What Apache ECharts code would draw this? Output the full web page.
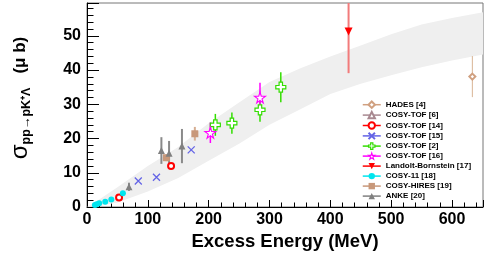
<!DOCTYPE html>
<html><head><meta charset="utf-8">
<script src="https://cdn.jsdelivr.net/npm/echarts@6/dist/echarts.min.js"></script>
<style>html,body{margin:0;padding:0;background:#fff}#c{width:490px;height:263px}</style>
</head><body><div id="c"></div>
<script>
const FONT = '"Liberation Sans", Arial, Helvetica, sans-serif';

// tick labels
const xTickLabels = [0, 100, 200, 300, 400, 500, 600];
const yTickLabels = [0, 10, 20, 30, 40, 50];

// data (excess energy MeV, cross section µb, error)
const hadesX = [633.5], hadesY = [38.1], hadesErr = [6.0];
const tof6X = [], tof6Y = [];
const tof14X = [52.7, 138.2], tof14Y = [2.8, 12.0];
const tof15X = [84.3, 114.2, 171.3], tof15Y = [7.6, 8.7, 16.7];
const tof2X = [211, 238.2, 284.4, 318.6], tof2Y = [24.0, 24.5, 28.4, 35.0], tof2Err = [3.2, 3.1, 3.5, 4.4];
const tof16X = [202.8, 284.4], tof16Y = [21.7, 32.0], tof16Err = [3.0, 4.3];
const lbX = [430], lbY = [51.3], lbErr = [12.2];
const c11X = [13, 16, 20, 30, 40, 59], c11Y = [0.6, 0.8, 1.1, 1.5, 2.2, 4.0];
const hiresX = [130.5, 177.3], hiresY = [14.4, 21.4], hiresErr = [1.0, 2.0];
const ankeX = [69, 122.3, 134.9, 156.1], ankeY = [5.9, 16.5, 15.7, 17.8], ankeErr = [1.2, 3.9, 3.6, 5.0];

// grey band
const bandX  = [0, 20, 50, 100, 150, 200, 250, 300, 350, 400, 450, 500, 550, 600, 655];
const bandHi = [0, 2.2, 5.8, 12, 17.5, 24.5, 30.5, 36.5, 40.5, 44, 47.2, 50.5, 53.3, 55.2, 57];
const bandLo = [0, 0.3, 1.3, 4.5, 8.5, 13.5, 18.5, 24, 28.5, 33, 36, 38.5, 40.8, 42.8, 44.7];

const names = ['HADES [4]', 'COSY-TOF [6]', 'COSY-TOF [14]', 'COSY-TOF [15]', 'COSY-TOF [2]', 'COSY-TOF [16]',
  'Landolt-Bornstein [17]', 'COSY-11 [18]', 'COSY-HIRES [19]', 'ANKE [20]'];

const pts = (xs, ys) => xs.map((x, i) => [x, ys[i]]);
const errs = (xs, ys, es) => xs.map((x, i) => [x, ys[i] - es[i], ys[i] + es[i]]);

function pointSeries(name, xs, ys, color, symbol, size, itemStyle, extra) {
  return Object.assign({
    name, type: 'line', data: pts(xs, ys), symbol, symbolSize: size,
    lineStyle: { width: 0, opacity: 0, color },
    itemStyle: itemStyle || { color },
    z: 5, animation: false, silent: true
  }, extra || {});
}
function errSeries(xs, ys, es, color, width) {
  return {
    type: 'custom', data: errs(xs, ys, es), clip: true, z: 3, silent: true, animation: false,
    encode: { x: 0, y: [1, 2] },
    renderItem: (params, api) => {
      const p1 = api.coord([api.value(0), api.value(1)]);
      const p2 = api.coord([api.value(0), api.value(2)]);
      return { type: 'line', shape: { x1: p1[0], y1: p1[1], x2: p2[0], y2: p2[1] },
        style: { stroke: color, lineWidth: width } };
    }
  };
}

const STAR = 'path://M50,0L61,35L98,35L68,57L79,91L50,70L21,91L32,57L2,35L39,35Z';
const CROSS = 'path://M33,0H67V33H100V67H67V100H33V67H0V33H33Z';
const XMARK = 'path://M0,0L10,10M10,0L0,10';

const band = {
  type: 'custom', data: [[0, 0, 0]], clip: true, z: 1, silent: true, animation: false,
  renderItem: (params, api) => {
    const up = bandX.map((x, i) => api.coord([x, bandHi[i]]));
    const lo = bandX.map((x, i) => api.coord([x, bandLo[i]])).reverse();
    return { type: 'polygon', shape: { points: up.concat(lo) }, style: { fill: '#efefef' } };
  }
};

const openGreen = { color: '#fff', borderColor: '#33dd00', borderWidth: 1.2 };
const openMagenta = { color: '#fff', borderColor: '#ff00ff', borderWidth: 1.1 };

const chart = echarts.init(document.getElementById('c'), null, { renderer: 'canvas' });
chart.setOption({
  animation: false,
  backgroundColor: '#fff',
  grid: { left: 84, right: 7, top: 3, bottom: 56, show: true, borderColor: '#777', borderWidth: 1 },
  xAxis: {
    type: 'value', min: 0, max: 651, interval: 100,
    axisLine: { lineStyle: { color: '#000', width: 1 } },
    axisTick: { inside: true, length: 7, lineStyle: { color: '#000' } },
    minorTick: { show: true, splitNumber: 5, length: 4.5, lineStyle: { color: '#000' } },
    splitLine: { show: false },
    axisLabel: { showMaxLabel: false, margin: 5, color: '#000', fontFamily: FONT, fontWeight: 'bold', fontSize: 16,
      formatter: v => xTickLabels.includes(v) ? String(v) : '' },
    name: 'Excess Energy (MeV)', nameLocation: 'middle', nameGap: 23,
    nameTextStyle: { color: '#000', fontFamily: FONT, fontWeight: 'bold', fontSize: 18.5 }
  },
  yAxis: {
    type: 'value', min: 0, max: 59.6, interval: 10,
    axisLine: { lineStyle: { color: '#000', width: 1 } },
    axisTick: { inside: true, length: 12, lineStyle: { color: '#000' } },
    minorTick: { show: true, splitNumber: 5, length: 6.5, lineStyle: { color: '#000' } },
    splitLine: { show: false },
    axisLabel: { showMaxLabel: false, margin: 6, color: '#000', fontFamily: FONT, fontWeight: 'bold', fontSize: 16,
      formatter: v => yTickLabels.includes(v) ? String(v) : '' },
    name: '{s|σ}{sub|pp→pK⁺Λ}{n|(μ b)}', nameLocation: 'middle', nameRotate: 90, nameGap: 54,
    nameTextStyle: {
      color: '#000', fontFamily: FONT, fontWeight: 'bold', padding: [0, 0, 0, 14],
      rich: {
        s: { fontSize: 24, fontFamily: FONT, fontWeight: 'normal', lineHeight: 26, color: '#000' },
        sub: { fontSize: 12.5, fontFamily: FONT, fontWeight: 'bold', lineHeight: 12, verticalAlign: 'bottom', color: '#000' },
        n: { fontSize: 17, fontFamily: FONT, fontWeight: 'bold', lineHeight: 26, padding: [0, 0, 0, 14], color: '#000' }
      }
    }
  },
  legend: {
    orient: 'vertical', left: 357, top: 95.5, itemWidth: 18, itemHeight: 8, itemGap: 2,
    data: names.map((n, i) => i === 4 ? { name: n, itemStyle: openGreen }
      : i === 5 ? { name: n, itemStyle: openMagenta } : n),
    lineStyle: { width: 1.5, opacity: 1 },
    textStyle: { fontFamily: FONT, fontSize: 8, lineHeight: 8, fontWeight: 'bold', color: '#000' },
    selectedMode: false
  },
  series: [
    band,
    errSeries(hadesX, hadesY, hadesErr, '#d8b494', 1),
    errSeries(tof2X, tof2Y, tof2Err, '#33dd00', 1.5),
    errSeries(tof16X, tof16Y, tof16Err, '#ff00ff', 1.5),
    errSeries(lbX, lbY, lbErr, '#f27b7b', 2),
    errSeries(hiresX, hiresY, hiresErr, '#d6ae92', 2),
    errSeries(ankeX, ankeY, ankeErr, '#8a8a8a', 2),
    pointSeries(names[0], hadesX, hadesY, '#d0a080', 'emptyDiamond', 6),
    pointSeries(names[1], tof6X, tof6Y, '#a88890', 'emptyTriangle', 7),
    pointSeries(names[2], tof14X, tof14Y, '#ff0000', 'emptyCircle', 6),
    pointSeries(names[3], tof15X, tof15Y, '#6464e6', XMARK, 7, { color: '#6464e6', borderColor: '#6464e6', borderWidth: 1.3 }),
    pointSeries(names[4], tof2X, tof2Y, '#33dd00', CROSS, 10, openGreen),
    pointSeries(names[5], tof16X, tof16Y, '#ff00ff', STAR, 11, openMagenta),
    pointSeries(names[6], lbX, lbY, '#ff0000', 'triangle', 8, null, { symbolRotate: 180 }),
    pointSeries(names[7], c11X, c11Y, '#00e5ee', 'circle', 6),
    pointSeries(names[8], hiresX, hiresY, '#c8987a', 'rect', 7),
    pointSeries(names[9], ankeX, ankeY, '#808080', 'triangle', 7)
  ]
});
</script></body></html>
